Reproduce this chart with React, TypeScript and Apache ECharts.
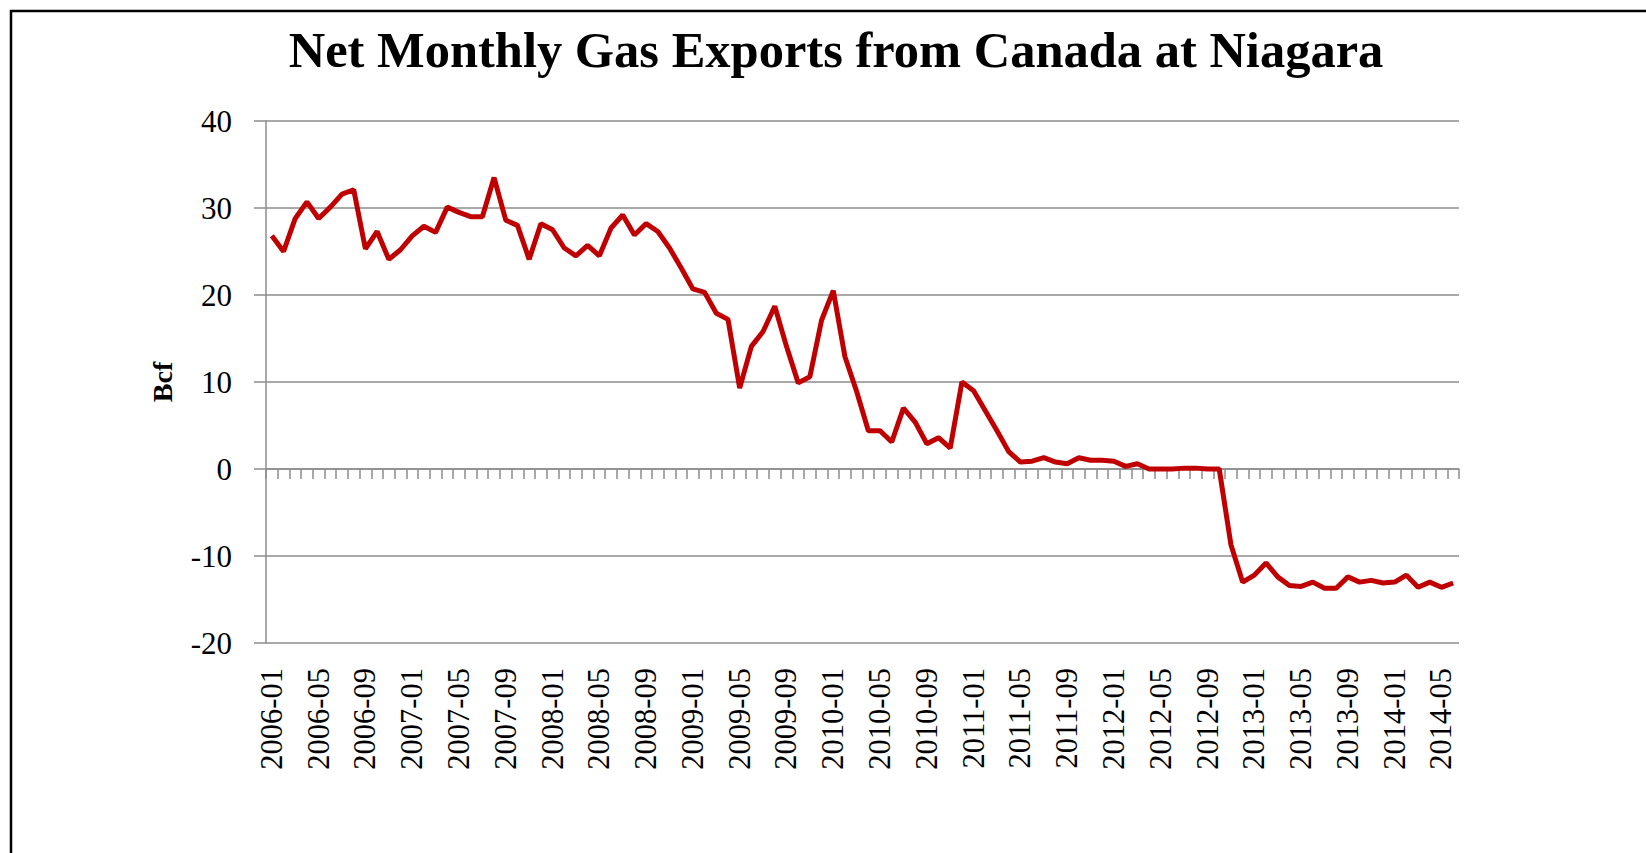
import React, { useEffect, useRef } from "react";
import * as echarts from "echarts";

const TITLE = "Net Monthly Gas Exports from Canada at Niagara";
const Y_NAME = "Bcf";
const START_YEAR = 2006;
const MONTH_COUNT = 102;

// Net monthly exports (Bcf), 2006-01 .. 2014-06
const v2006 = [26.8, 25.0, 28.8, 30.7, 28.8, 30.1, 31.6, 32.1, 25.3, 27.3, 24.1, 25.2];
const v2007 = [26.8, 27.9, 27.2, 30.1, 29.5, 29.0, 29.0, 33.5, 28.6, 28.0, 24.1, 28.2];
const v2008 = [27.5, 25.4, 24.5, 25.7, 24.5, 27.7, 29.2, 26.9, 28.2, 27.3, 25.4, 23.1];
const v2009 = [20.7, 20.3, 17.9, 17.2, 9.3, 14.1, 15.8, 18.7, 14.1, 9.9, 10.6, 17.1];
const v2010 = [20.5, 12.9, 8.9, 4.4, 4.4, 3.1, 7.0, 5.4, 2.9, 3.6, 2.4, 10.0];
const v2011 = [9.0, 6.7, 4.4, 2.0, 0.8, 0.9, 1.3, 0.8, 0.6, 1.3, 1.0, 1.0];
const v2012 = [0.9, 0.3, 0.6, 0.0, 0.0, 0.0, 0.1, 0.1, 0.0, 0.0, -8.7, -13.0];
const v2013 = [-12.2, -10.8, -12.4, -13.4, -13.5, -13.0, -13.7, -13.7, -12.4, -13.0, -12.8, -13.1];
const v2014 = [-13.0, -12.2, -13.6, -13.0, -13.6, -13.1];

const values = [...v2006, ...v2007, ...v2008, ...v2009, ...v2010, ...v2011, ...v2012, ...v2013, ...v2014];

const categories: string[] = [];
for (let i = 0; i < MONTH_COUNT; i++) {
  const y = START_YEAR + Math.floor(i / 12);
  const m = (i % 12) + 1;
  categories.push(`${y}-${m < 10 ? "0" + m : m}`);
}

const FONT = "'Liberation Serif', 'Times New Roman', serif";
const GRAY = "#8c8c8c";

export default function App() {
  const ref = useRef<HTMLDivElement>(null);
  useEffect(() => {
    if (!ref.current) return;
    const chart = echarts.init(ref.current, null, { renderer: "svg" });
    chart.setOption({
      animation: false,
      backgroundColor: "#fff",
      title: {
        text: TITLE,
        left: 831,
        top: 19,
        textAlign: "center",
        textStyle: { fontFamily: FONT, fontWeight: "bold", fontSize: 50.5, color: "#000" },
      },
      graphic: [
        {
          type: "rect",
          shape: { x: 11, y: 11, width: 1700, height: 900 },
          style: { fill: "none", stroke: "#000", lineWidth: 2.5 },
          silent: true,
        },
      ],
      grid: { left: 266, right: 187, top: 121, bottom: 210, containLabel: false },
      xAxis: [
        {
          type: "category",
          data: categories,
          boundaryGap: true,
          axisLine: { show: true, onZero: true, lineStyle: { color: GRAY, width: 1.5 } },
          axisTick: { show: true, interval: 0, length: 10, lineStyle: { color: GRAY, width: 1.5 } },
          axisLabel: { show: false },
          splitLine: { show: false },
        },
        {
          type: "category",
          data: categories,
          position: "bottom",
          boundaryGap: true,
          axisLine: { show: false, onZero: false },
          axisTick: { show: false },
          axisLabel: {
            show: true,
            interval: 3,
            rotate: 90,
            margin: 25,
            fontSize: 30.5,
            fontFamily: FONT,
            color: "#000",
          },
          splitLine: { show: false },
        },
      ],
      yAxis: {
        type: "value",
        min: -20,
        max: 40,
        interval: 10,
        name: Y_NAME,
        nameLocation: "middle",
        nameGap: 90,
        nameTextStyle: { fontFamily: FONT, fontWeight: "bold", fontSize: 28, color: "#000" },
        axisLine: { show: true, lineStyle: { color: GRAY, width: 1.5 } },
        axisTick: { show: true, length: 12, lineStyle: { color: GRAY, width: 1.5 } },
        axisLabel: { margin: 34, fontSize: 31, fontFamily: FONT, color: "#000" },
        splitLine: { show: true, lineStyle: { color: GRAY, width: 1.5 } },
      },
      series: [
        {
          type: "line",
          xAxisIndex: 0,
          data: values,
          showSymbol: false,
          symbol: "none",
          lineStyle: { color: "#c00000", width: 5 },
          z: 5,
        },
      ],
    });
    return () => chart.dispose();
  }, []);
  return (
    <div
      ref={ref}
      style={{ position: "fixed", left: 0, top: 0, width: 1646, height: 853, background: "#fff" }}
    />
  );
}
